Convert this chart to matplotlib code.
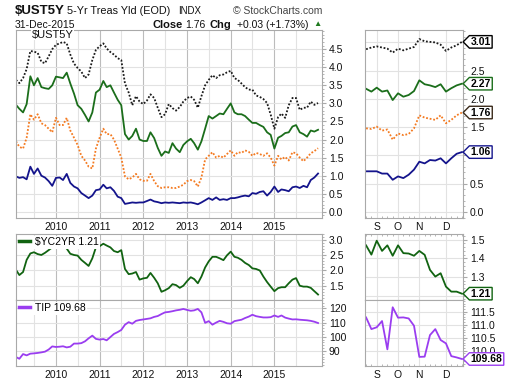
import numpy as np
import pandas as pd
import matplotlib
matplotlib.use("Agg")
import matplotlib.pyplot as plt
import matplotlib.dates as mdates
from matplotlib.path import Path
from matplotlib.ticker import MultipleLocator, FixedLocator, FormatStrFormatter

plt.rcParams['font.family'] = ['Liberation Sans', 'DejaVu Sans']

# month-start closes, Feb 2009 .. Jan 2016 (last point = close of 31-Dec-2015)
dates = pd.date_range('2009-02-01', '2016-01-01', freq='MS')

ust30 = [3.65, 3.56, 3.70, 3.95, 4.45, 4.43, 4.40, 4.15, 4.11, 4.30, 4.50, 4.62,
         4.66, 4.70, 4.66, 4.35, 4.10, 3.98, 3.88, 3.70, 3.80, 4.20, 4.48, 4.58,
         4.66, 4.52, 4.42, 4.35, 4.25, 4.20, 3.55, 3.30, 2.95, 3.20, 3.05, 2.98,
         3.08, 3.25, 3.15, 2.88, 2.62, 2.70, 2.98, 2.87, 2.80, 2.90, 3.05, 3.15,
         3.19, 3.10, 2.88, 3.20, 3.50, 3.65, 3.78, 3.70, 3.78, 3.80, 3.86, 3.90,
         3.70, 3.65, 3.55, 3.45, 3.38, 3.38, 3.22, 3.18, 3.12, 3.01, 2.69, 2.30,
         2.62, 2.72, 2.60, 2.95, 3.15, 3.15, 2.82, 2.88, 2.88, 3.05, 2.96, 3.01]
ust10 = [2.96, 2.85, 2.75, 2.98, 3.75, 3.50, 3.70, 3.45, 3.42, 3.40, 3.50, 3.74,
         3.72, 3.70, 3.85, 3.55, 3.27, 2.95, 2.85, 2.68, 2.50, 2.75, 3.30, 3.38,
         3.62, 3.45, 3.50, 3.30, 3.10, 2.95, 2.15, 2.00, 2.10, 2.30, 2.00, 1.96,
         1.96, 2.20, 2.04, 1.77, 1.55, 1.67, 1.63, 1.90, 1.75, 1.65, 1.85, 1.95,
         2.02, 1.90, 1.72, 1.95, 2.30, 2.65, 2.58, 2.65, 2.72, 2.70, 2.85, 3.00,
         2.75, 2.70, 2.70, 2.65, 2.55, 2.46, 2.46, 2.40, 2.35, 2.20, 2.13, 1.75,
         2.05, 2.10, 2.18, 2.20, 2.36, 2.40, 2.20, 2.15, 2.08, 2.25, 2.22, 2.27]
ust5 = [1.95, 1.80, 1.75, 2.05, 2.70, 2.55, 2.70, 2.45, 2.40, 2.30, 2.20, 2.60,
        2.40, 2.40, 2.60, 2.25, 2.05, 1.85, 1.55, 1.42, 1.25, 1.20, 1.75, 2.05,
        2.30, 2.15, 2.15, 2.00, 1.75, 1.50, 0.98, 0.90, 0.95, 1.05, 0.90, 0.86,
        0.86, 1.05, 0.85, 0.71, 0.66, 0.68, 0.68, 0.66, 0.66, 0.70, 0.75, 0.85,
        0.88, 0.85, 0.70, 0.95, 1.45, 1.55, 1.65, 1.50, 1.55, 1.50, 1.60, 1.70,
        1.55, 1.65, 1.63, 1.70, 1.66, 1.55, 1.63, 1.60, 1.55, 1.62, 1.50, 1.28,
        1.55, 1.45, 1.52, 1.42, 1.65, 1.62, 1.50, 1.40, 1.50, 1.62, 1.68, 1.76]
ust2 = [0.98, 0.94, 0.96, 0.90, 1.25, 1.05, 1.20, 1.00, 0.95, 0.85, 0.72, 0.94,
        0.95, 0.88, 1.05, 0.80, 0.70, 0.65, 0.52, 0.45, 0.38, 0.45, 0.60, 0.62,
        0.75, 0.65, 0.68, 0.58, 0.42, 0.38, 0.22, 0.24, 0.26, 0.25, 0.26, 0.26,
        0.30, 0.34, 0.29, 0.27, 0.24, 0.26, 0.25, 0.26, 0.25, 0.24, 0.26, 0.25,
        0.26, 0.24, 0.21, 0.26, 0.32, 0.38, 0.33, 0.40, 0.33, 0.35, 0.33, 0.38,
        0.38, 0.40, 0.43, 0.45, 0.43, 0.52, 0.50, 0.55, 0.57, 0.45, 0.55, 0.70,
        0.55, 0.62, 0.60, 0.57, 0.68, 0.70, 0.66, 0.72, 0.68, 0.88, 0.95, 1.06]
yc2yr = [2.02, 1.85, 1.95, 2.35, 2.56, 2.60, 2.54, 2.51, 2.58, 2.67, 2.76, 2.78,
         2.84, 2.84, 2.72, 2.55, 2.51, 2.49, 2.35, 2.25, 2.15, 2.40, 2.76, 2.80,
         2.88, 2.82, 2.76, 2.64, 2.60, 2.67, 2.05, 1.88, 1.90, 1.95, 1.70, 1.74,
         1.76, 1.92, 1.76, 1.58, 1.30, 1.35, 1.42, 1.55, 1.52, 1.43, 1.50, 1.65,
         1.78, 1.72, 1.58, 1.80, 2.10, 2.30, 2.45, 2.45, 2.40, 2.34, 2.50, 2.62,
         2.45, 2.42, 2.35, 2.25, 2.18, 2.07, 2.05, 2.00, 1.80, 1.62, 1.47, 1.32,
         1.42, 1.45, 1.45, 1.58, 1.70, 1.75, 1.50, 1.47, 1.47, 1.43, 1.32, 1.21]
tip = [85.7, 84.5, 87.8, 86.9, 88.1, 88.3, 88.6, 89.0, 89.5, 91.0, 93.2, 92.8,
       93.0, 93.3, 92.5, 93.0, 95.2, 95.2, 95.5, 96.8, 98.9, 100.8, 98.5, 98.0,
       98.4, 97.5, 99.8, 102.0, 103.3, 104.8, 108.5, 110.3, 109.2, 111.2, 111.8, 112.2,
       112.6, 113.0, 114.0, 114.6, 116.0, 117.2, 117.5, 118.0, 118.6, 119.0, 119.6, 118.9,
       118.3, 118.6, 119.6, 117.2, 109.8, 111.0, 108.5, 110.0, 111.2, 110.5, 109.5, 109.2,
       111.0, 111.5, 112.0, 113.2, 114.2, 115.5, 114.5, 114.0, 113.6, 113.6, 113.8, 115.0,
       114.0, 115.0, 113.5, 112.8, 112.2, 112.3, 112.0, 111.8, 111.6, 111.2, 110.6, 109.68]
years = [2010, 2011, 2012, 2013, 2014, 2015]

# weekly closes for the zoomed panels (mid-Aug .. 31-Dec-2015)
wk_ust30 = [2.88, 2.91, 2.93, 2.91, 2.89, 2.82, 2.89, 2.86, 2.89, 2.92,
            3.06, 3.02, 3.01, 3.00, 2.96, 2.85, 2.91, 2.95, 3.01]
wk_ust10 = [2.18, 2.13, 2.20, 2.13, 2.15, 1.98, 2.10, 2.04, 2.07, 2.14,
            2.33, 2.26, 2.24, 2.21, 2.26, 2.13, 2.19, 2.24, 2.27]
wk_ust5 = [1.48, 1.47, 1.51, 1.44, 1.46, 1.28, 1.39, 1.36, 1.38, 1.48,
           1.71, 1.67, 1.65, 1.63, 1.71, 1.57, 1.63, 1.71, 1.76]
wk_ust2 = [0.72, 0.72, 0.72, 0.68, 0.68, 0.57, 0.63, 0.60, 0.66, 0.75,
           0.89, 0.86, 0.92, 0.91, 0.95, 0.86, 0.95, 1.03, 1.06]
wk_yc = [1.47, 1.42, 1.495, 1.44, 1.47, 1.414, 1.47, 1.428, 1.426, 1.414,
         1.44, 1.419, 1.338, 1.302, 1.32, 1.248, 1.221, 1.221, 1.21]
wk_tip = [111.28, 110.83, 110.90, 111.14, 110.05, 111.67, 111.27, 111.28, 111.24, 110.96,
          109.76, 109.77, 110.60, 110.83, 110.41, 110.28, 109.79, 109.74, 109.68]
month_labels = ['S', 'O', 'N', 'D']
month_start_week = [2, 6, 10, 15]

C30, C10, C5, C2 = '#1a1a1a', '#1b6e1b', '#f47a20', '#14148c'
CYC, CTIP = '#116311', '#9a3df0'
GRID, GRID_DK, FRAME = '#e2e2e2', '#bcbcbc', '#a9a9a9'
DOT = (0, (1, 1))

W, H = 510, 384


def px_rect(l, t, r, b):
    return [l / W, 1 - b / H, (r - l) / W, (b - t) / H]


def style(ax):
    for s in ax.spines.values():
        s.set_color(FRAME)
        s.set_linewidth(0.8)
    ax.yaxis.tick_right()
    ax.tick_params(axis='y', which='both', right=True, left=False, labelright=True,
                   labelleft=False, labelsize=7.5, color=FRAME, labelcolor='#111', pad=2)
    ax.tick_params(axis='y', which='major', length=3)
    ax.tick_params(axis='y', which='minor', length=1.5)
    ax.tick_params(axis='x', which='both', length=0, labelsize=7.5,
                   labelcolor='#111', labelbottom=False, pad=3)
    ax.set_axisbelow(True)
    ax.grid(True, which='major', axis='y', color=GRID, lw=0.8)


def tag_box(x0, y0, width, height, mutation_size):
    pad = 0.12 * mutation_size
    x0 -= pad
    y0 -= pad
    width += 2 * pad
    height += 2 * pad
    x1, y1, ym = x0 + width, y0 + height, y0 + height / 2
    head = height / 2
    return Path([(x0, y0), (x1, y0), (x1, y1), (x0, y1), (x0 - head, ym), (x0, y0)],
                closed=True)


def add_tag(ax, value, color):
    txt = f'{value:.2f}'
    ax.annotate(txt, xy=(1.0, value), xycoords=('axes fraction', 'data'),
                xytext=(5.5, 0), textcoords='offset points', ha='left', va='center',
                fontsize=7.5, fontweight='bold', color='#000', annotation_clip=False,
                zorder=10, bbox=dict(boxstyle=tag_box, fc='white', ec=color, lw=1.0))


def date_axis(ax, labels):
    ax.set_xlim(pd.Timestamp('2009-02-01'), pd.Timestamp('2016-02-03'))
    ax.xaxis.set_major_locator(
        FixedLocator([mdates.date2num(pd.Timestamp(f'{y}-01-01')) for y in years]))
    ax.xaxis.set_major_formatter(mdates.DateFormatter('%Y'))
    ax.xaxis.set_minor_locator(mdates.MonthLocator(bymonth=7))
    ax.grid(True, which='major', axis='x', color=GRID_DK, lw=0.8)
    ax.grid(True, which='minor', axis='x', color=GRID, lw=0.8)
    ax.tick_params(axis='x', labelbottom=labels)


def week_axis(ax, labels, top=False):
    ax.set_xlim(-0.2, len(wk_ust5) - 0.8)
    ax.xaxis.set_major_locator(FixedLocator(month_start_week))
    ax.set_xticklabels(month_labels)
    ax.xaxis.set_minor_locator(MultipleLocator(1))
    ax.grid(True, which='major', axis='x', color=GRID, lw=0.8)
    ax.tick_params(axis='x', which='minor', length=1.5, color=FRAME, direction='in',
                   bottom=not top, top=top)
    ax.tick_params(axis='x', which='major', labelbottom=labels, labeltop=False)


fig = plt.figure(figsize=(W / 100, H / 100), dpi=100)
ax_main = fig.add_axes(px_rect(16, 30, 322, 218))
ax_yc = fig.add_axes(px_rect(16, 234, 322, 300))
ax_tip = fig.add_axes(px_rect(16, 300, 322, 366))
mx_main = fig.add_axes(px_rect(365, 30, 463, 218))
mx_yc = fig.add_axes(px_rect(365, 234, 463, 300))
mx_tip = fig.add_axes(px_rect(365, 300, 463, 366))
for a in (ax_main, ax_yc, ax_tip, mx_main, mx_yc, mx_tip):
    style(a)

# main yield panel
ax_main.plot(dates, ust30, color=C30, lw=1.3, ls=DOT)
ax_main.plot(dates, ust10, color=C10, lw=1.3)
ax_main.plot(dates, ust5, color=C5, lw=1.3, ls=DOT)
ax_main.plot(dates, ust2, color=C2, lw=1.3)
ax_main.set_ylim(-0.17, 5.03)
ax_main.set_yticks(np.arange(0, 4.6, 0.5))
ax_main.yaxis.set_minor_locator(MultipleLocator(0.1))
ax_main.yaxis.set_major_formatter(FormatStrFormatter('%.1f'))
date_axis(ax_main, True)
ax_main.text(0.052, 0.975, '$UST5Y', transform=ax_main.transAxes, ha='left', va='center',
             fontsize=8, color='#111', bbox=dict(fc='white', ec='none', pad=0.5))

# yield curve panel
ax_yc.plot(dates, yc2yr, color=CYC, lw=1.3, label='$YC2YR 1.21')
ax_yc.set_ylim(1.03, 3.2)
ax_yc.set_yticks([1.5, 2.0, 2.5, 3.0])
ax_yc.yaxis.set_minor_locator(MultipleLocator(0.1))
ax_yc.yaxis.set_major_formatter(FormatStrFormatter('%.1f'))
date_axis(ax_yc, False)

# TIP panel
ax_tip.plot(dates, tip, color=CTIP, lw=1.3, label='TIP 109.68')
ax_tip.set_ylim(79.4, 125.9)
ax_tip.set_yticks([90, 100, 110, 120])
ax_tip.yaxis.set_minor_locator(MultipleLocator(2))
date_axis(ax_tip, True)

for a in (ax_yc, ax_tip):
    leg = a.legend(loc='upper left', frameon=True, framealpha=1, edgecolor='none',
                   fancybox=False, handlelength=1.0, handletextpad=0.5, borderpad=0.15,
                   borderaxespad=0.15, prop={'size': 7.5})
    for h in leg.legend_handles:
        h.set_linewidth(2.5)

# zoomed panels
wk = np.arange(len(wk_ust5))
mx_main.plot(wk, wk_ust30, color=C30, lw=1.3, ls=DOT)
mx_main.plot(wk, wk_ust10, color=C10, lw=1.3)
mx_main.plot(wk, wk_ust5, color=C5, lw=1.3, ls=DOT)
mx_main.plot(wk, wk_ust2, color=C2, lw=1.3)
mx_main.set_ylim(-0.106, 3.22)
mx_main.set_yticks([0.0, 0.5, 1.0, 1.5, 2.0, 2.5, 3.0],
                   labels=['0.0', '0.5', '1.0', '1.5', '2.0', '2.5', ''])
mx_main.yaxis.set_minor_locator(MultipleLocator(0.1))
week_axis(mx_main, True)
add_tag(mx_main, wk_ust30[-1], '#000')
add_tag(mx_main, wk_ust10[-1], C10)
add_tag(mx_main, wk_ust5[-1], '#3a2a1a')
add_tag(mx_main, wk_ust2[-1], C2)

mx_yc.plot(wk, wk_yc, color=CYC, lw=1.3)
mx_yc.set_ylim(1.176, 1.531)
mx_yc.set_yticks([1.2, 1.3, 1.4, 1.5], labels=['', '1.3', '1.4', '1.5'])
mx_yc.yaxis.set_minor_locator(MultipleLocator(0.02))
week_axis(mx_yc, False, top=True)
add_tag(mx_yc, wk_yc[-1], CYC)

mx_tip.plot(wk, wk_tip, color=CTIP, lw=1.3)
mx_tip.set_ylim(109.41, 111.95)
mx_tip.set_yticks([110.0, 110.5, 111.0, 111.5])
mx_tip.yaxis.set_minor_locator(MultipleLocator(0.1))
mx_tip.yaxis.set_major_formatter(FormatStrFormatter('%.1f'))
week_axis(mx_tip, True)
add_tag(mx_tip, wk_tip[-1], CTIP)


# header text
def ftext(x, y, s, color='#111', **kw):
    fig.text(x / W, 1 - y / H, s, va='center', ha='left', color=color, **kw)


ftext(15, 11, '$UST5Y', fontsize=9.5, fontweight='bold')
ftext(67, 11, '5-Yr Treas Yld (EOD)', fontsize=7.8)
ftext(178, 11.5, 'INDX', fontsize=7)
ftext(233, 11.5, '© StockCharts.com', fontsize=7.5, color='#444')
ftext(15, 25, '31-Dec-2015', fontsize=7.5)
ftext(153, 25, 'Close', fontsize=8, fontweight='bold')
ftext(185, 25, '1.76', fontsize=7.5)
ftext(210, 25, 'Chg', fontsize=8, fontweight='bold')
ftext(237, 25, '+0.03 (+1.73%)', fontsize=7.5)
ftext(313, 25, '▲', fontsize=6, color='#1f7a1f')

fig.savefig('out.png', dpi=100)
